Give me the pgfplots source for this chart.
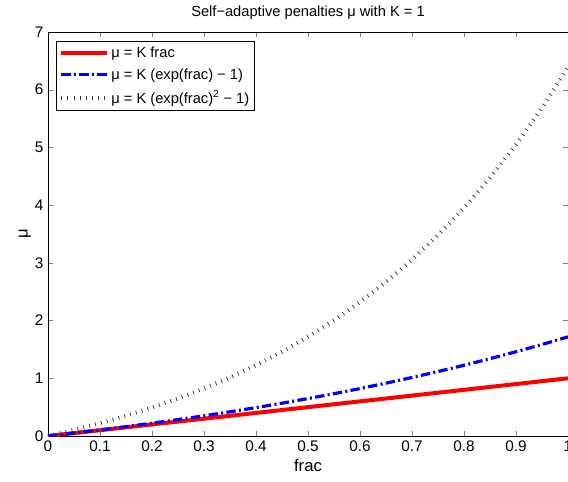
\documentclass[border=0pt]{standalone}
\usepackage{fontspec}
\setmainfont{Liberation Sans}
\usepackage{pgfplots}
\pgfplotsset{compat=1.18}

\begin{document}
\begin{tikzpicture}
\begin{axis}[
    name=ax, at={(0,0)}, anchor=south west,
    scale only axis,
    width=390pt, height=303pt,
    xmin=0, xmax=1, ymin=0, ymax=7,
    xtick={0,0.1,...,1},
    ytick={0,1,...,7},
    tick align=inside,
    tick pos=both,
    major tick length=4pt,
    axis line style={line width=0.6pt},
    /pgf/number format/assume math mode=true,
    /pgf/number format/fixed,
    tick label style={font=\fontsize{11.5}{12}\selectfont},
    label style={font=\fontsize{12.5}{13}\selectfont},
    title style={font=\fontsize{11}{12}\selectfont, yshift=0pt},
    title={Self−adaptive penalties μ with K = 1},
    xlabel={frac},
    ylabel={μ},
    xlabel style={yshift=1pt},
    ylabel style={yshift=-4pt},
    legend cell align=left,
    legend style={
        at={(0.016,0.978)}, anchor=north west,
        font=\fontsize{11}{13}\selectfont,
        draw=black, line width=0.6pt,
        inner sep=2pt,
        row sep=3pt,
        /tikz/every even column/.append style={column sep=2pt},
    },
    legend image code/.code={
        \draw[#1] (0pt,0pt) -- (34pt,0pt);
    },
]

% mu = K frac
\addplot[color=red, line width=3pt] coordinates {
    (0,0) (0.25,0.25) (0.5,0.5) (0.75,0.75) (1,1)
};
\addlegendentry{μ = K frac}

% mu = K (exp(frac) - 1)
\addplot[color=blue, line width=2.4pt, dash pattern=on 7pt off 2.5pt on 1.5pt off 2.5pt] coordinates {
    (0,0) (0.05,0.051271) (0.1,0.105171) (0.15,0.161834) (0.2,0.221403)
    (0.25,0.284025) (0.3,0.349859) (0.35,0.419068) (0.4,0.491825)
    (0.45,0.568312) (0.5,0.648721) (0.55,0.733253) (0.6,0.822119)
    (0.65,0.915541) (0.7,1.013753) (0.75,1.117000) (0.8,1.225541)
    (0.85,1.339647) (0.9,1.459603) (0.95,1.585710) (1,1.718282)
};
\addlegendentry{μ = K (exp(frac) − 1)}

% mu = K (exp(frac)^2 - 1)
\addplot[color=black!80, line width=3pt, dash pattern=on 0.55pt off 4pt] coordinates {
    (0,0) (0.05,0.105171) (0.1,0.221403) (0.15,0.349859) (0.2,0.491825)
    (0.25,0.648721) (0.3,0.822119) (0.35,1.013753) (0.4,1.225541)
    (0.45,1.459603) (0.5,1.718282) (0.55,2.004166) (0.6,2.320117)
    (0.65,2.669297) (0.7,3.055200) (0.75,3.481689) (0.8,3.953032)
    (0.85,4.473947) (0.9,5.049647) (0.95,5.685894) (1,6.389056)
};
\addlegendentry{μ = K (exp(frac)\textsuperscript{2} − 1)}

\end{axis}
\pgfresetboundingbox
\path[use as bounding box] (-36pt,-34.5pt) rectangle (390pt,327pt);
\end{tikzpicture}
\end{document}
